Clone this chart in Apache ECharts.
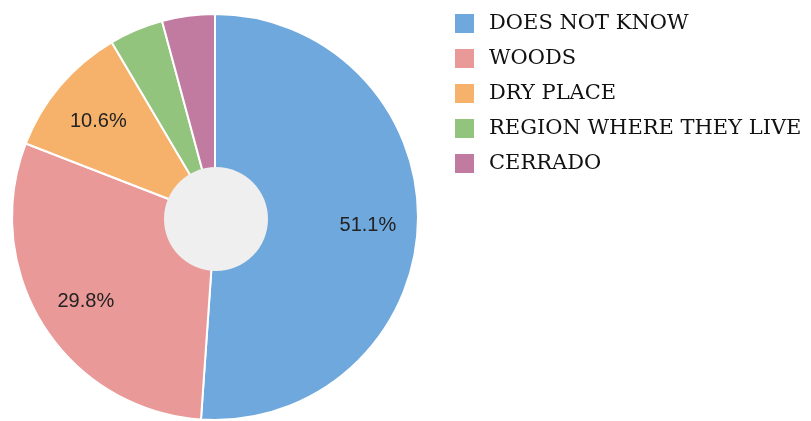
<!DOCTYPE html>
<html>
<head>
<meta charset="utf-8">
<script src="https://cdn.jsdelivr.net/npm/echarts@6/dist/echarts.min.js"></script>
<style>
  html, body { margin: 0; padding: 0; background: #fff; }
  #main { width: 811px; height: 421px; }
</style>
</head>
<body>
<div id="main"></div>
<script>
// categories and shares (%)
const categories = ['DOES NOT KNOW', 'WOODS', 'DRY PLACE', 'REGION WHERE THEY LIVE', 'CERRADO']
const shares = [51.1, 29.8, 10.6, 4.3, 4.2]
const colors = ['#6fa8dc', '#ea9999', '#f6b26b', '#93c47d', '#c27ba0']

const pieData = categories.map((name, i) => ({ name: name, value: shares[i] }))

const myChart = echarts.init(document.getElementById('main'))
myChart.setOption({
  animation: false,
  color: colors,
  legend: {
    orient: 'vertical',
    left: 453,
    top: 12,
    padding: 0,
    itemWidth: 21,
    itemHeight: 21,
    itemGap: 12,
    icon: 'rect',
    data: categories,
    textStyle: {
      fontFamily: 'DejaVu Serif',
      fontSize: 21,
      lineHeight: 21,
      color: '#111',
      padding: [0, 0, 0, 9]
    }
  },
  series: [
    {
      // filled slices
      type: 'pie',
      center: [215, 217],
      radius: [0, 203],
      startAngle: 90,
      clockwise: true,
      silent: true,
      itemStyle: { borderColor: '#fff', borderWidth: 2 },
      label: { show: false },
      labelLine: { show: false },
      data: pieData
    },
    {
      // labels only, placed halfway through the outer ring
      type: 'pie',
      center: [215, 220],
      radius: [97, 203],
      startAngle: 90,
      silent: true,
      legendHoverLink: false,
      itemStyle: { color: 'transparent' },
      label: {
        show: true,
        position: 'inside',
        fontFamily: 'Liberation Sans',
        fontSize: 20,
        color: '#222',
        formatter: function (p) {
          return p.value >= 10 ? p.value.toFixed(1) + '%' : ''
        }
      },
      labelLine: { show: false },
      data: pieData
    },
    {
      // grey centre disc
      type: 'pie',
      center: [216, 219],
      radius: [0, 52],
      silent: true,
      legendHoverLink: false,
      label: { show: false },
      labelLine: { show: false },
      itemStyle: { color: '#efefef', borderWidth: 0 },
      data: [{ name: 'centre', value: 1 }]
    }
  ]
})
</script>
</body>
</html>
